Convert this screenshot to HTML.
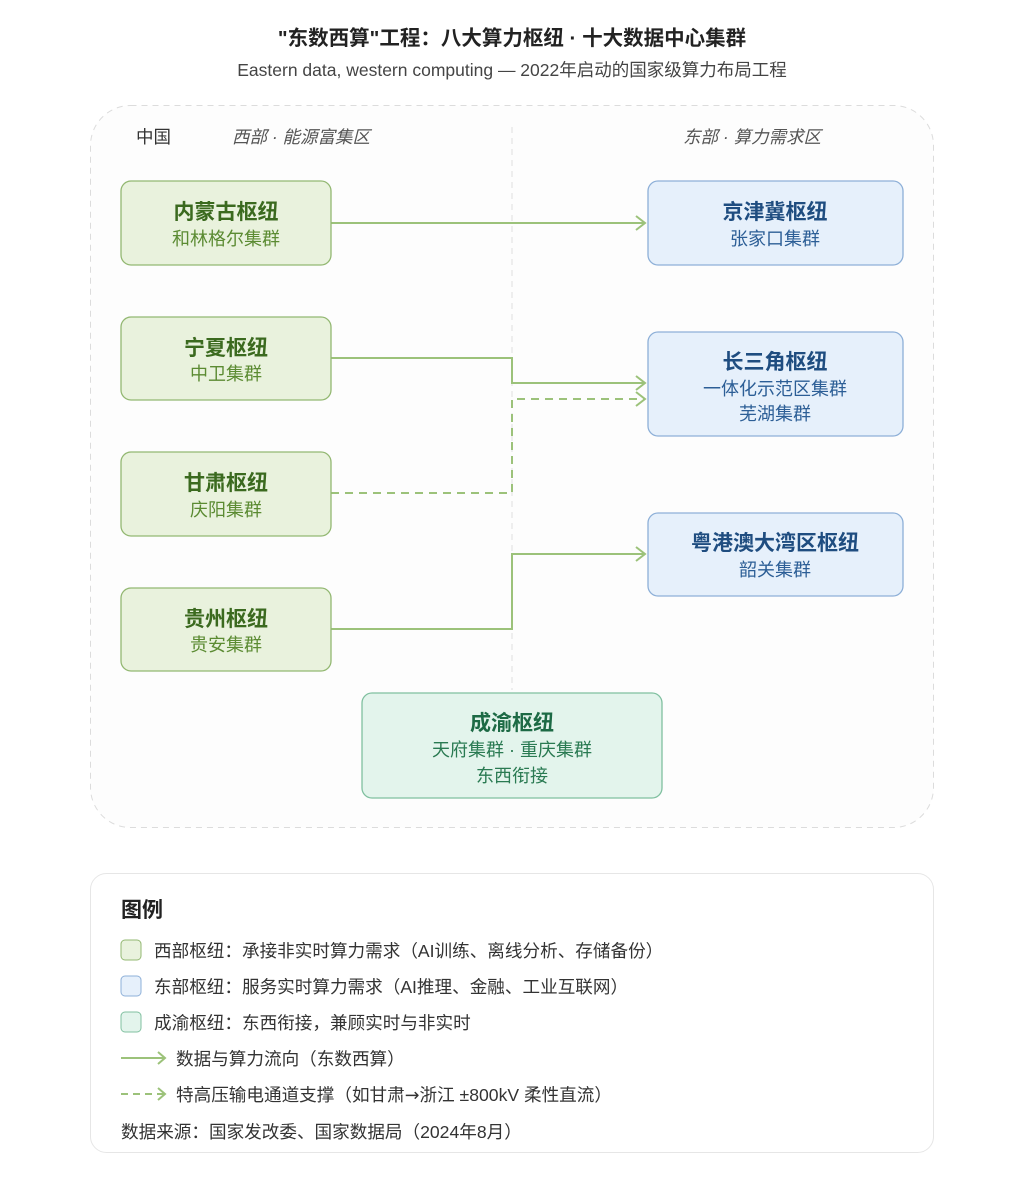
<!DOCTYPE html>
<html><head><meta charset="utf-8"><style>
html,body{margin:0;padding:0;background:#fff;}
svg text{font-family:"Liberation Sans","Noto Sans CJK SC",sans-serif;}
</style></head><body>
<svg width="1024" height="1175" viewBox="0 0 1024 1175" xmlns="http://www.w3.org/2000/svg">
<text x="512" y="45" text-anchor="middle" font-size="20.5" font-weight="bold" fill="#222">"东数西算"工程：八大算力枢纽 · 十大数据中心集群</text>
<text x="512" y="76" text-anchor="middle" font-size="17.5" fill="#444">Eastern data, western computing — 2022年启动的国家级算力布局工程</text>
<rect x="90.5" y="105.5" width="843" height="722" rx="40" fill="#fdfdfd" stroke="#dcdcdc" stroke-dasharray="6 5"/>
<line x1="512" y1="127" x2="512" y2="690" stroke="#e0e0e0" stroke-dasharray="6 5"/>
<text x="136" y="143" font-size="17.5" fill="#333">中国</text>
<text x="232" y="143" font-size="17.5" fill="#555" font-style="italic">西部 · 能源富集区</text>
<text x="683" y="143" font-size="17.5" fill="#555" font-style="italic">东部 · 算力需求区</text>
<g fill="none" stroke="#9cc27a" stroke-width="2">
<path d="M331 223H644"/>
<path d="M331 358H512V383H644"/>
<path d="M331 493H512V399H644" stroke-dasharray="8 6"/>
<path d="M331 629H512V554H644"/>
<path d="M636 216L645 223L636 230M636 376L645 383L636 390M636 392L645 399L636 406M636 547L645 554L636 561"/>
</g>
<g stroke="#93b872" fill="#e9f2dd" stroke-width="1.3">
<rect x="121" y="181" width="210" height="84" rx="10"/>
<rect x="121" y="317" width="210" height="83" rx="10"/>
<rect x="121" y="452" width="210" height="84" rx="10"/>
<rect x="121" y="588" width="210" height="83" rx="10"/>
</g>
<g text-anchor="middle">
<text x="226" y="219" font-size="21" font-weight="bold" fill="#3b6a1f">内蒙古枢纽</text>
<text x="226" y="245" font-size="18" fill="#5b8b32">和林格尔集群</text>
<text x="226" y="355" font-size="21" font-weight="bold" fill="#3b6a1f">宁夏枢纽</text>
<text x="226" y="380" font-size="18" fill="#5b8b32">中卫集群</text>
<text x="226" y="490" font-size="21" font-weight="bold" fill="#3b6a1f">甘肃枢纽</text>
<text x="226" y="516" font-size="18" fill="#5b8b32">庆阳集群</text>
<text x="226" y="626" font-size="21" font-weight="bold" fill="#3b6a1f">贵州枢纽</text>
<text x="226" y="651" font-size="18" fill="#5b8b32">贵安集群</text>
</g>
<g stroke="#8eb0d8" fill="#e6f0fb" stroke-width="1.3">
<rect x="648" y="181" width="255" height="84" rx="10"/>
<rect x="648" y="332" width="255" height="104" rx="10"/>
<rect x="648" y="513" width="255" height="83" rx="10"/>
</g>
<g text-anchor="middle">
<text x="775" y="219" font-size="21" font-weight="bold" fill="#1f4d80">京津冀枢纽</text>
<text x="775" y="245" font-size="18" fill="#2c5e96">张家口集群</text>
<text x="775" y="369" font-size="21" font-weight="bold" fill="#1f4d80">长三角枢纽</text>
<text x="775" y="395" font-size="18" fill="#2c5e96">一体化示范区集群</text>
<text x="775" y="420" font-size="18" fill="#2c5e96">芜湖集群</text>
<text x="775" y="550" font-size="21" font-weight="bold" fill="#1f4d80">粤港澳大湾区枢纽</text>
<text x="775" y="576" font-size="18" fill="#2c5e96">韶关集群</text>
</g>
<rect x="362" y="693" width="300" height="105" rx="10" fill="#e3f4ec" stroke="#80c0a0" stroke-width="1.3"/>
<g text-anchor="middle">
<text x="512" y="730" font-size="21" font-weight="bold" fill="#1d6a45">成渝枢纽</text>
<text x="512" y="756" font-size="18" fill="#2a7a52">天府集群 · 重庆集群</text>
<text x="512" y="782" font-size="18" fill="#2a7a52">东西衔接</text>
</g>
<rect x="90.5" y="873.5" width="843" height="279" rx="16" fill="#fff" stroke="#e6e6e6"/>
<text x="121" y="917" font-size="21" font-weight="bold" fill="#222">图例</text>
<rect x="121" y="940" width="20" height="20" rx="4" fill="#e9f2dd" stroke="#93b872"/>
<rect x="121" y="976" width="20" height="20" rx="4" fill="#e6f0fb" stroke="#8eb0d8"/>
<rect x="121" y="1012" width="20" height="20" rx="4" fill="#e3f4ec" stroke="#80c0a0"/>
<g font-size="17.6" fill="#333">
<text x="154" y="957">西部枢纽：承接非实时算力需求（AI训练、离线分析、存储备份）</text>
<text x="154" y="993">东部枢纽：服务实时算力需求（AI推理、金融、工业互联网）</text>
<text x="154" y="1029">成渝枢纽：东西衔接，兼顾实时与非实时</text>
<text x="176" y="1065">数据与算力流向（东数西算）</text>
<text x="176" y="1101">特高压输电通道支撑（如甘肃<tspan font-family="DejaVu Sans">→</tspan>浙江 ±800kV 柔性直流）</text>
<text x="121" y="1138">数据来源：国家发改委、国家数据局（2024年8月）</text>
</g>
<g fill="none" stroke="#9cc27a" stroke-width="2">
<path d="M121 1058H165M158 1052L165 1058L158 1064"/>
<path d="M121 1094H165" stroke-dasharray="7 5"/>
<path d="M158 1088L165 1094L158 1100"/>
</g>
</svg>
</body></html>
